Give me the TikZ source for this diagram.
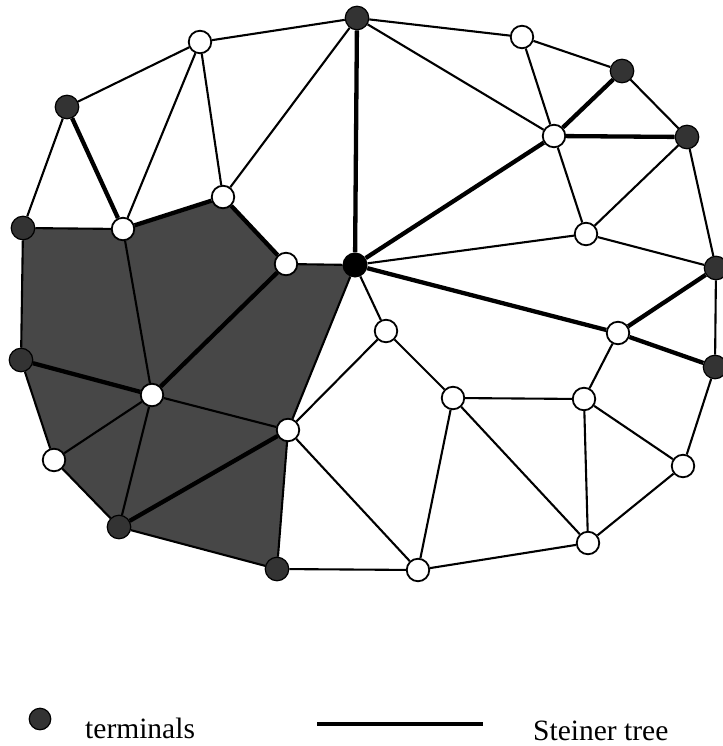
\documentclass[tikz,border=0pt]{standalone}
\usepackage{fontspec}
\setmainfont{Liberation Serif}
\usepackage{tikz}
\usetikzlibrary{backgrounds}

\begin{document}
\begin{tikzpicture}[x=1pt, y=-1pt,
  vertex/.style={circle, draw=black, line width=1.8pt, fill=white, minimum size=22.5pt, inner sep=0pt},
  terminal/.style={circle, draw=black, line width=1.2pt, fill=black!80, minimum size=23.5pt, inner sep=0pt},
  hub/.style={circle, fill=black, minimum size=25pt, inner sep=0pt},
  edge/.style={line width=2.1pt},
  tree/.style={line width=4.3pt},
  region/.style={fill=black!72},
  legend/.style={font=\fontsize{29.5}{32}\selectfont, inner sep=0pt}]
\useasboundingbox (0,0) rectangle (722,746);
% terminals
\node[terminal] (t1) at (357,18) {};
\node[terminal] (t2) at (67,107) {};
\node[terminal] (t3) at (622,71) {};
\node[terminal] (t4) at (687,137) {};
\node[terminal] (t5) at (23,228) {};
\node[terminal] (t6) at (716,268) {};
\node[terminal] (t7) at (21,360) {};
\node[terminal] (t8) at (715,367) {};
\node[terminal] (t9) at (119,527) {};
\node[terminal] (t10) at (277,569) {};
\node[hub] (c) at (355,265) {};
% other vertices
\node[vertex] (w1) at (200,42) {};
\node[vertex] (w2) at (522,37) {};
\node[vertex] (w3) at (554,136) {};
\node[vertex] (w4) at (123,229) {};
\node[vertex] (w5) at (223,197) {};
\node[vertex] (w6) at (286,264) {};
\node[vertex] (w7) at (586,234) {};
\node[vertex] (w8) at (386,331) {};
\node[vertex] (w9) at (618,333) {};
\node[vertex] (w10) at (152,395) {};
\node[vertex] (w11) at (453,398) {};
\node[vertex] (w12) at (584,399) {};
\node[vertex] (w13) at (288,430) {};
\node[vertex] (w14) at (54,460) {};
\node[vertex] (w15) at (683,466) {};
\node[vertex] (w16) at (588,543) {};
\node[vertex] (w17) at (418,570) {};
% shaded component
\begin{scope}[on background layer]
\fill[region] (t5.center) -- (w4.center) -- (w5.center) -- (w6.center) -- (c.center)
  -- (w13.center) -- (t10.center) -- (t9.center) -- (w14.center) -- (t7.center) -- cycle;
\end{scope}
% graph edges
\foreach \a/\b in {t2/w1, w1/t1, t2/t5, w1/w4, w1/w5, w5/t1, t5/w4, w6/c, c/w13,
  w13/t10, t10/t9, t9/w14, w14/t7, t7/t5, w4/w10, w10/w14, w10/t9, w10/w13,
  t1/w2, t1/w3, c/w7, w2/t3, w2/w3, t3/t4, w3/w7, w7/t4, w7/t6, t4/t6, c/w8,
  t6/t8, w9/w12, w8/w11, w8/w13, w11/w12, w11/w17, w11/w16, w12/w16, w12/w15,
  t8/w15, w15/w16, w16/w17, w13/w17, t10/w17}
  \draw[edge] (\a) -- (\b);
% Steiner tree
\foreach \a/\b in {t2/w4, w4/w5, w5/w6, t1/c, c/w3, w3/t3, w3/t4, c/w9, w9/t6,
  w9/t8, t7/w10, w10/w6, t9/w13}
  \draw[tree] (\a) -- (\b);
% legend
\node[terminal, minimum size=21.5pt] (lterm) at (40,719) {};
\node[legend, anchor=base west] (lterms) at (85,738) {terminals};
\coordinate (lfrom) at (317,724);
\coordinate (lto) at (483,724);
\draw[tree] (lfrom) -- (lto);
\node[legend, anchor=base west] (ltree) at (533,740) {Steiner tree};
\end{tikzpicture}
\end{document}
